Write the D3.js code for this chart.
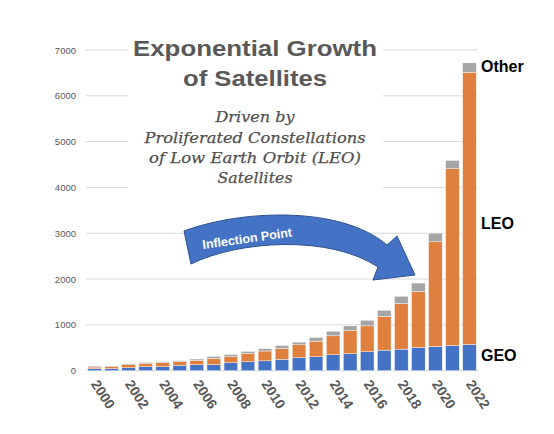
<!DOCTYPE html>
<html>
<head>
<meta charset="utf-8">
<script src="https://cdn.jsdelivr.net/npm/d3@7"></script>
<style>
  html, body { margin: 0; padding: 0; background: #fff; }
  svg { display: block; }
</style>
</head>
<body>
<svg id="chart" width="554" height="434"></svg>
<script>
// ---- data ----
const years = [2000,2001,2002,2003,2004,2005,2006,2007,2008,2009,2010,2011,2012,2013,2014,2015,2016,2017,2018,2019,2020,2021,2022];
const geo   = [43,43,65,87,87,116,130,130,174,196,215,250,283,304,348,370,413,449,471,507,529,551,572];
const leo   = [37,44,65,73,87,80,95,138,130,174,215,235,282,341,413,507,565,739,993,1225,2284,3858,5942];
const other = [21,14,22,21,22,22,29,44,51,50,50,65,58,80,101,101,123,131,159,181,190,181,205];
const yTicks = [0,1000,2000,3000,4000,5000,6000,7000];
const xTickYears = [2000,2002,2004,2006,2008,2010,2012,2014,2016,2018,2020,2022];
const seriesKeys = ["GEO","LEO","Other"];
const seriesColors = ["#4472C4","#E0803E","#A5A5A5"];

// ---- layout ----
const svg = d3.select("#chart");
const x = d3.scaleBand().domain(years).range([86, 478]).paddingInner(0.2).paddingOuter(0.1);
const y = d3.scaleLinear().domain([0, 7000]).range([370.7, 50]);

// gridlines
svg.append("g").selectAll("line").data(yTicks).join("line")
  .attr("x1", 86).attr("x2", 478)
  .attr("y1", d => y(d)).attr("y2", d => y(d))
  .attr("stroke", "#D9D9D9").attr("stroke-width", 1);

// y tick labels
svg.append("g").selectAll("text").data(yTicks).join("text")
  .attr("x", 76).attr("y", d => y(d) + 3.5)
  .attr("text-anchor", "end")
  .attr("font-family", "Liberation Sans, Arial, sans-serif")
  .attr("font-size", 9.5).attr("fill", "#595959")
  .text(d => d);

// stacked bars
const table = years.map((yr, i) => ({year: yr, GEO: geo[i], LEO: leo[i], Other: other[i]}));
const stacked = d3.stack().keys(seriesKeys)(table);
svg.append("g").selectAll("g").data(stacked).join("g")
  .attr("fill", (d, i) => seriesColors[i])
  .selectAll("rect").data(d => d).join("rect")
  .attr("x", d => x(d.data.year))
  .attr("width", x.bandwidth())
  .attr("y", d => y(d[1]))
  .attr("height", d => y(d[0]) - y(d[1]))
  .attr("stroke", "#fff").attr("stroke-width", 0.4);

// x tick labels (rotated)
svg.append("g").selectAll("text").data(xTickYears).join("text")
  .attr("transform", d => `translate(${x(d) + x.bandwidth()/2 - 4},${384}) rotate(57)`)
  .attr("text-anchor", "start")
  .attr("font-family", "Liberation Sans, Arial, sans-serif")
  .attr("font-size", 14).attr("font-weight", "bold").attr("fill", "#595959")
  .text(d => d);

// title box (covers gridlines)
svg.append("rect").attr("x", 128).attr("y", 32).attr("width", 255).attr("height", 162).attr("fill", "#fff");
const titleLines = [["Exponential Growth", 56, 244], ["of Satellites", 86, 144]];
svg.append("g").selectAll("text").data(titleLines).join("text")
  .attr("x", 255).attr("y", d => d[1])
  .attr("text-anchor", "middle")
  .attr("textLength", d => d[2]).attr("lengthAdjust", "spacingAndGlyphs")
  .attr("font-family", "Liberation Sans, Arial, sans-serif")
  .attr("font-weight", "bold").attr("font-size", 22).attr("fill", "#595959")
  .text(d => d[0]);

const subLines = [["Driven by",122,79],["Proliferated Constellations",143,221],["of Low Earth Orbit (LEO)",163,212],["Satellites",183,75]];
svg.append("g").selectAll("text").data(subLines).join("text")
  .attr("x", 255).attr("y", d => d[1])
  .attr("text-anchor", "middle")
  .attr("textLength", d => d[2]).attr("lengthAdjust", "spacingAndGlyphs")
  .attr("font-family", "DejaVu Serif, serif")
  .attr("font-style", "italic").attr("font-size", 15).attr("fill", "#505050")
  .attr("stroke", "#505050").attr("stroke-width", 0.25)
  .text(d => d[0]);

// series labels at right
const rightLabels = [["Other",72],["LEO",229],["GEO",361]];
svg.append("g").selectAll("text").data(rightLabels).join("text")
  .attr("x", 481).attr("y", d => d[1])
  .attr("font-family", "Liberation Sans, Arial, sans-serif")
  .attr("font-weight", "bold").attr("font-size", 16).attr("fill", "#000")
  .text(d => d[0]);

// curved arrow annotation
const p = d3.path();
p.moveTo(184, 231);
p.bezierCurveTo(240, 210, 340, 205, 387, 245);
p.lineTo(397, 236);
p.lineTo(415, 275);
p.lineTo(373, 280);
p.lineTo(378, 267);
p.bezierCurveTo(330, 235, 240, 240, 191, 264);
p.closePath();
svg.append("path").attr("d", p.toString())
  .attr("fill", "#4472C4").attr("stroke", "#2F528F").attr("stroke-width", 1);

svg.append("text")
  .attr("transform", "translate(203,249) rotate(-8)")
  .attr("font-family", "Liberation Sans, Arial, sans-serif")
  .attr("font-weight", "bold").attr("font-size", 12.5).attr("fill", "#fff")
  .text("Inflection Point");
</script>
</body>
</html>
